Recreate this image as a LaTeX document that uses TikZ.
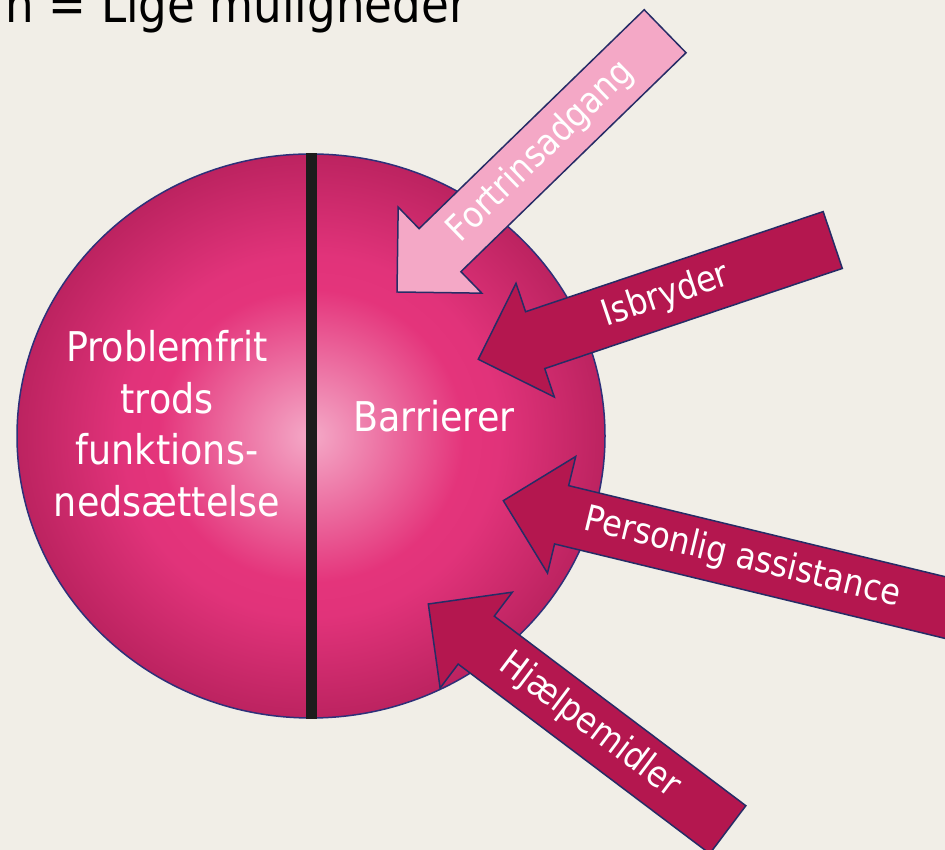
\documentclass[tikz,border=0pt]{standalone}
\usepackage{fontspec}
\setmainfont{DejaVu Sans}[FakeStretch=0.89]
\usetikzlibrary{shapes.geometric}

\definecolor{slidebg}{HTML}{F1EEE7}
\definecolor{ballcenter}{HTML}{F4A9C7}
\definecolor{ballmid}{HTML}{E4347B}
\definecolor{ballmidb}{HTML}{E1337A}
\definecolor{balledge}{HTML}{BC2360}
\definecolor{ballrim}{HTML}{2E3079}
\definecolor{divider}{HTML}{1C1C1C}
\definecolor{arrowrim}{HTML}{262C66}
\definecolor{pinklight}{HTML}{F4A8C6}
\definecolor{pinkdark}{HTML}{B4174F}

\pgfdeclareradialshading{ballshade}{\pgfpoint{0bp}{0bp}}{%
  color(0bp)=(ballcenter); color(13bp)=(ballmid); color(16bp)=(ballmidb);
  color(25bp)=(balledge); color(50bp)=(balledge)}

% block arrow: name, tip, angle, length, fill, label, label position
\newcommand{\blockarrow}[7]{%
  \begin{scope}[shift={(#2)},rotate=#3]
    \draw[arrow line,fill=#5] (0,0) -- (60,60) -- (60,30) -- (#4,30)
      -- (#4,-30) -- (60,-30) -- (60,-60) -- cycle;
    \node[arrow label,rotate=#3] (#1) at (#7,0) {#6};
  \end{scope}}

\begin{document}
\begin{tikzpicture}[x=1pt,y=1pt,
    arrow line/.style={draw=arrowrim,line width=1.5pt,line join=miter},
    arrow label/.style={text=white,inner sep=0pt,text height=27pt,text depth=8pt,
      font=\fontsize{36}{43}\selectfont},
    ball text/.style={text=white,align=center,inner sep=0pt,
      font=\fontsize{41}{51.5}\selectfont}]
  \useasboundingbox (0,0) rectangle (945,850);
  \clip (0,0) rectangle (945,850);
  \fill[slidebg] (0,0) rectangle (945,850);

  \node[ellipse,draw=ballrim,line width=1.5pt,shading=ballshade,
    minimum width=588pt,minimum height=564pt,inner sep=0pt] (ball) at (311,414) {};
  \draw[line width=11pt,divider] (ball.north) -- (ball.south);

  \node[ball text,anchor=north] (free) at (167,519.5)
    {Problemfrit\\trods\\funktions-\\nedsættelse};
  \node[ball text,anchor=base] (barrier) at (434,418) {Barrierer};

  \node[anchor=base east,inner sep=0pt,font=\fontsize{50.8}{61}\selectfont]
    (title) at (468,827.3) {n = Lige muligheder};

  % arrows into the barriers
  \blockarrow{prio}{397,558}{44.2}{374}{pinklight}{Fortrinsadgang}{201}
  \blockarrow{ice}{478.3,490.7}{18.6}{374}{pinkdark}{Isbryder}{198}
  \blockarrow{assist}{503.3,349.3}{-13.6}{520}{pinkdark}{Personlig assistance}{246}
  \blockarrow{aids}{428.3,246}{-37}{375}{pinkdark}{Hjælpemidler}{202}
\end{tikzpicture}
\end{document}
